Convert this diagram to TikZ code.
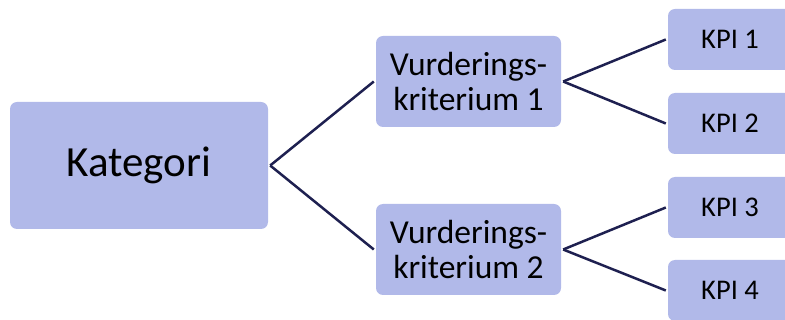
\documentclass[tikz,border=0pt]{standalone}
\usepackage{fontspec}
\setmainfont{Carlito}
\definecolor{boxfill}{HTML}{B1B9E9}
\definecolor{linecol}{HTML}{1E2050}
\begin{document}
\begin{tikzpicture}[x=1pt,y=-1pt,
  box/.style={fill=boxfill,draw=none,rounded corners=7pt,inner sep=0pt,align=center,text=black},
  catbox/.style={box,minimum width=258pt,minimum height=127pt,font=\fontsize{43}{50}\selectfont},
  critbox/.style={box,minimum width=185pt,minimum height=91pt,font=\fontsize{33.5}{35}\selectfont},
  kpibox/.style={box,minimum width=124pt,minimum height=61pt,font=\fontsize{28.5}{32}\selectfont},
  conn/.style={draw=linecol,line width=2.5pt}]
\useasboundingbox (0,0) rectangle (785,320);
\begin{scope}
\clip (0,0) rectangle (785,320);
\node[catbox] (kat) at (139,165.5) {Kategori};
\node[critbox] (v1) at (468.5,81.5) {Vurderings-\\kriterium 1};
\node[critbox] (v2) at (468.5,249.5) {Vurderings-\\kriterium 2};
\node[kpibox] (k1) at (730,39.5) {KPI 1};
\node[kpibox] (k2) at (730,123.5) {KPI 2};
\node[kpibox] (k3) at (730,207.5) {KPI 3};
\node[kpibox] (k4) at (730,290.5) {KPI 4};
\draw[conn] ([xshift=2pt]kat.east) -- ([xshift=-2pt]v1.west);
\draw[conn] ([xshift=2pt]kat.east) -- ([xshift=-2pt]v2.west);
\draw[conn] ([xshift=2pt]v1.east) -- ([xshift=-2pt]k1.west);
\draw[conn] ([xshift=2pt]v1.east) -- ([xshift=-2pt]k2.west);
\draw[conn] ([xshift=2pt]v2.east) -- ([xshift=-2pt]k3.west);
\draw[conn] ([xshift=2pt]v2.east) -- ([xshift=-2pt]k4.west);
\end{scope}
\end{tikzpicture}
\end{document}
